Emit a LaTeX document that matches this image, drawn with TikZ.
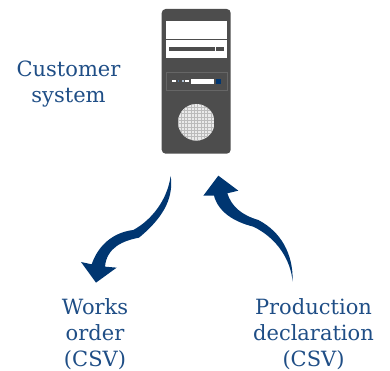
\documentclass[tikz,border=0pt]{standalone}
\usepackage{fontspec}
\newfontfamily\slab{DejaVu Serif}
\definecolor{navy}{HTML}{003671}
\definecolor{labelblue}{HTML}{1F4E86}
\definecolor{towergrey}{HTML}{4D4D4D}
\definecolor{fanlight}{HTML}{EAEAEA}
\definecolor{fandark}{HTML}{BBBBBB}
\tikzset{
  lbl/.style={text=labelblue,font=\slab\fontsize{21}{26}\selectfont,align=center,inner sep=0pt},
  sweep/.style={fill=navy,draw=none},
  bar/.style={fill=towergrey,draw=none},
  whitebit/.style={fill=white,draw=none}
}
\begin{document}
\begin{tikzpicture}[x=1pt,y=-1pt]
\useasboundingbox (0,0) rectangle (390,371);
% tower
\fill[towergrey,rounded corners=4pt] (161.7,9) rectangle (230.7,153.7);
\fill[white] (166,21) rectangle (227,57.7);
\fill[towergrey] (166,38.8) rectangle (227,39.9);
\path[bar] (169,47) rectangle (215,51);
\path[bar] (216,47) rectangle (224,51);
\draw[draw=black!60,line width=0.7pt] (166,72.3) rectangle (227,90.3);
\path[whitebit] (172,79.6) rectangle (176,82);
\fill[navy!70!white] (177.5,80.2) rectangle (179,81.6);
\fill[white!70!navy] (182,80) rectangle (184,82);
\path[whitebit] (185,79.6) rectangle (189,82);
\path[whitebit] (191,79) rectangle (214,84);
\fill[navy] (216,79) rectangle (220.5,84);
% fan
\begin{scope}
\clip (196.3,122.3) circle (18.3);
\fill[fanlight] (178,104) rectangle (215,141);
\foreach \k in {0,...,11}{
  \draw[fandark,line width=1pt] (178+3.3*\k,104) -- (178+3.3*\k,141);
  \draw[fandark,line width=1pt] (178,104+3.3*\k) -- (215,104+3.3*\k);
}
\end{scope}
% arrows
\begin{scope}[shift={(70,170)},x=0.3333pt,y=-0.3333pt]
\path[sweep] (302,18) .. controls (310,75) and (290,135) .. (207,203)
  .. controls (160,212) and (110,232) .. (105,290)
  -- (140,293) -- (78,338) -- (33,276) -- (65,283)
  .. controls (85,225) and (130,187) .. (190,180)
  .. controls (245,150) and (292,90) .. (302,18) -- cycle;
\path[sweep] (668,335) .. controls (662,270) and (622,205) .. (550,170)
  .. controls (490,155) and (445,125) .. (432,77)
  -- (400,77) -- (445,17) -- (505,62) -- (472,70)
  .. controls (485,110) and (515,135) .. (565,150)
  .. controls (632,185) and (670,250) .. (668,335) -- cycle;
\end{scope}
% labels
\node[lbl] (customer) at (68.5,84) {Customer\\system};
\node[lbl] (works) at (95,334) {Works\\order\\(CSV)};
\node[lbl] (production) at (313.5,334) {Production\\declaration\\(CSV)};
\end{tikzpicture}
\end{document}
